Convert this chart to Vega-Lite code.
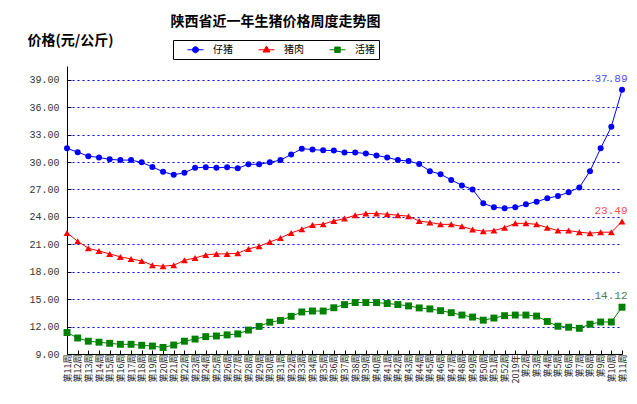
{
  "$schema": "https://vega.github.io/schema/vega-lite/v6.json",
  "autosize": "none",
  "width": 555,
  "height": 288,
  "padding": {"left": 67, "top": 66, "right": 15, "bottom": 50},
  "background": "white",
  "config": {"view": {"stroke": null}, "font": "Noto Sans CJK SC"},
  "title": {"text": "陕西省近一年生猪价格周度走势图", "fontSize": 14, "fontWeight": "bold", "font": "Noto Sans CJK SC", "color": "black", "anchor": "middle", "dx": -69},
  "data": {"values": [
    {"周": "第11周", "仔猪": 31.50, "猪肉": 22.24, "活猪": 11.35},
    {"周": "第12周", "仔猪": 31.07, "猪肉": 21.33, "活猪": 10.75},
    {"周": "第13周", "仔猪": 30.64, "猪肉": 20.56, "活猪": 10.40},
    {"周": "第14周", "仔猪": 30.50, "猪肉": 20.27, "活猪": 10.29},
    {"周": "第15周", "仔猪": 30.29, "猪肉": 19.95, "活猪": 10.17},
    {"周": "第16周", "仔猪": 30.21, "猪肉": 19.62, "活猪": 10.06},
    {"周": "第17周", "仔猪": 30.21, "猪肉": 19.40, "活猪": 10.06},
    {"周": "第18周", "仔猪": 29.96, "猪肉": 19.18, "活猪": 9.95},
    {"周": "第19周", "仔猪": 29.46, "猪肉": 18.71, "活猪": 9.87},
    {"周": "第20周", "仔猪": 28.93, "猪肉": 18.60, "活猪": 9.72},
    {"周": "第21周", "仔猪": 28.61, "猪肉": 18.71, "活猪": 9.98},
    {"周": "第22周", "仔猪": 28.82, "猪肉": 19.25, "活猪": 10.40},
    {"周": "第23周", "仔猪": 29.36, "猪肉": 19.51, "活猪": 10.63},
    {"周": "第24周", "仔猪": 29.43, "猪肉": 19.84, "活猪": 10.90},
    {"周": "第25周", "仔猪": 29.36, "猪肉": 19.95, "活猪": 10.97},
    {"周": "第26周", "仔猪": 29.43, "猪肉": 19.95, "活猪": 11.09},
    {"周": "第27周", "仔猪": 29.32, "猪肉": 20.02, "活猪": 11.20},
    {"周": "第28周", "仔猪": 29.75, "猪肉": 20.49, "活猪": 11.62},
    {"周": "第29周", "仔猪": 29.75, "猪肉": 20.78, "活猪": 12.02},
    {"周": "第30周", "仔猪": 29.96, "猪肉": 21.25, "活猪": 12.48},
    {"周": "第31周", "仔猪": 30.21, "猪肉": 21.69, "活猪": 12.67},
    {"周": "第32周", "仔猪": 30.82, "猪肉": 22.24, "活猪": 13.12},
    {"周": "第33周", "仔猪": 31.46, "猪肉": 22.64, "活猪": 13.60},
    {"周": "第34周", "仔猪": 31.36, "猪肉": 23.10, "活猪": 13.70},
    {"周": "第35周", "仔猪": 31.28, "猪肉": 23.20, "活猪": 13.70},
    {"周": "第36周", "仔猪": 31.25, "猪肉": 23.56, "活猪": 14.06},
    {"周": "第37周", "仔猪": 31.04, "猪肉": 23.81, "活猪": 14.40},
    {"周": "第38周", "仔猪": 31.04, "猪肉": 24.18, "活猪": 14.63},
    {"周": "第39周", "仔猪": 30.93, "猪肉": 24.36, "活猪": 14.63},
    {"周": "第40周", "仔猪": 30.71, "猪肉": 24.36, "活猪": 14.63},
    {"周": "第41周", "仔猪": 30.50, "猪肉": 24.29, "活猪": 14.52},
    {"周": "第42周", "仔猪": 30.21, "猪肉": 24.18, "活猪": 14.41},
    {"周": "第43周", "仔猪": 30.11, "猪肉": 24.07, "活猪": 14.26},
    {"周": "第44周", "仔猪": 29.78, "猪肉": 23.54, "活猪": 14.04},
    {"周": "第45周", "仔猪": 29.00, "猪肉": 23.39, "活猪": 13.93},
    {"周": "第46周", "仔猪": 28.67, "猪肉": 23.18, "活猪": 13.74},
    {"周": "第47周", "仔猪": 28.04, "猪肉": 23.18, "活猪": 13.52},
    {"周": "第48周", "仔猪": 27.44, "猪肉": 22.96, "活猪": 13.26},
    {"周": "第49周", "仔猪": 27.00, "猪肉": 22.61, "活猪": 13.04},
    {"周": "第50周", "仔猪": 25.48, "猪肉": 22.43, "活猪": 12.70},
    {"周": "第51周", "仔猪": 25.05, "猪肉": 22.50, "活猪": 12.93},
    {"周": "第52周", "仔猪": 24.94, "猪肉": 22.82, "活猪": 13.19},
    {"周": "2019年", "仔猪": 25.05, "猪肉": 23.29, "活猪": 13.26},
    {"周": "第2周", "仔猪": 25.37, "猪肉": 23.29, "活猪": 13.26},
    {"周": "第3周", "仔猪": 25.66, "猪肉": 23.18, "活猪": 13.15},
    {"周": "第4周", "仔猪": 26.03, "猪肉": 22.82, "活猪": 12.56},
    {"周": "第5周", "仔猪": 26.28, "猪肉": 22.50, "活猪": 12.04},
    {"周": "第6周", "仔猪": 26.68, "猪肉": 22.50, "活猪": 11.93},
    {"周": "第7周", "仔猪": 27.22, "猪肉": 22.32, "活猪": 11.81},
    {"周": "第8周", "仔猪": 29.00, "猪肉": 22.21, "活猪": 12.26},
    {"周": "第9周", "仔猪": 31.50, "猪肉": 22.32, "活猪": 12.50},
    {"周": "第10周", "仔猪": 33.86, "猪肉": 22.32, "活猪": 12.50},
    {"周": "第11周 ", "仔猪": 37.89, "猪肉": 23.49, "活猪": 14.12}
  ]},
  "transform": [{"fold": ["仔猪", "猪肉", "活猪"], "as": ["品种", "价格"]}],
  "encoding": {
    "x": {"field": "周", "type": "ordinal", "sort": null,
      "scale": {"type": "point", "padding": 0},
      "axis": {"title": null, "labelAngle": -90, "labelFontSize": 9, "labelFont": "Noto Sans CJK SC", "labelColor": "#222", "labelOverlap": false, "labelBound": false, "labelPadding": 4, "tickSize": -4, "tickColor": "black", "domainColor": "black", "grid": false}},
    "y": {"field": "价格", "type": "quantitative",
      "scale": {"domain": [9, 40.5], "nice": false, "zero": false},
      "axis": {"values": [9, 12, 15, 18, 21, 24, 27, 30, 33, 36, 39], "format": ".2f", "labelFont": "Liberation Mono", "labelFontSize": 10, "labelColor": "#333", "labelPadding": 12, "tickSize": -4, "tickColor": "black", "domainColor": "black",
        "grid": true, "gridColor": "#0000FF", "gridDash": [2, 3], "gridWidth": 1,
        "title": "价格(元/公斤)", "titleAngle": 0, "titleAlign": "left", "titleBaseline": "middle", "titleX": -40, "titleY": -26, "titleFontSize": 14, "titleFontWeight": "bold", "titleFont": "Noto Sans CJK SC", "titleColor": "black"}}
  },
  "layer": [
    {"transform": [{"filter": "datum['品种'] === '仔猪'"}],
     "mark": {"type": "line", "strokeWidth": 1, "color": "#0000FF"}, "encoding": {}},
    {"transform": [{"filter": "datum['品种'] === '猪肉'"}],
     "mark": {"type": "line", "strokeWidth": 1, "color": "#FF0000"}, "encoding": {}},
    {"transform": [{"filter": "datum['品种'] === '活猪'"}],
     "mark": {"type": "line", "strokeWidth": 1, "color": "#008000"}, "encoding": {}},
    {"transform": [{"filter": "datum['品种'] === '仔猪'"}],
     "mark": {"type": "point", "shape": "circle", "filled": true, "opacity": 1, "size": 36, "color": "#0000FF"}},
    {"transform": [{"filter": "datum['品种'] === '猪肉'"}],
     "mark": {"type": "point", "shape": "triangle-up", "filled": true, "opacity": 1, "size": 48, "color": "#FF0000"}},
    {"transform": [{"filter": "datum['品种'] === '活猪'"}],
     "mark": {"type": "point", "shape": "square", "filled": true, "opacity": 1, "size": 48, "color": "#008000"}},
    {"mark": {"type": "point", "filled": true, "opacity": 0},
     "encoding": {
       "color": {"field": "品种", "type": "nominal",
         "scale": {"domain": ["仔猪", "猪肉", "活猪"], "range": ["#0000FF", "#FF0000", "#008000"]},
         "legend": {"title": null,
           "orient": "none", "legendX": 106, "legendY": -26, "direction": "horizontal",
           "strokeColor": "black", "padding": 4, "fillColor": "white",
           "symbolSize": 100, "symbolStrokeWidth": 1, "labelOffset": 25, "columnPadding": 15,
           "labelFont": "Noto Sans CJK SC", "labelFontSize": 10, "labelColor": "black",
           "labelExpr": "datum.label + '  '",
           "encode": {"symbols": {"update": {"stroke": {"scale": "color", "field": "value"}, "strokeWidth": {"value": 1}, "opacity": {"value": 1}}}}}},
       "shape": {"field": "品种", "type": "nominal",
         "scale": {"domain": ["仔猪", "猪肉", "活猪"], "range": [
           "M1,0H4.2M2,0A0.6,0.6 0 1,0 3.2,0A0.6,0.6 0 1,0 2,0Z",
           "M1,0H4.2M2.6,-0.75L3.3,0.45L1.9,0.45Z",
           "M1,0H4.2M2.05,-0.55H3.15V0.55H2.05Z"]}}
     }},
    {"transform": [{"filter": "datum['周'] === '第11周 '"}],
     "mark": {"type": "text", "font": "Liberation Mono", "fontSize": 11, "dx": -11, "dy": -11, "baseline": "middle", "align": "center", "stroke": "white", "strokeWidth": 4, "fill": "white"},
     "encoding": {"text": {"field": "价格", "type": "quantitative", "format": ".2f"}}},
    {"transform": [{"filter": "datum['周'] === '第11周 '"}],
     "mark": {"type": "text", "font": "Liberation Mono", "fontSize": 11, "dx": -11, "dy": -11, "baseline": "middle", "align": "center"},
     "encoding": {
       "text": {"field": "价格", "type": "quantitative", "format": ".2f"},
       "fill": {"field": "品种", "type": "nominal", "legend": null, "scale": {"domain": ["仔猪", "猪肉", "活猪"], "range": ["#4b4bff", "#ff4b4b", "#4a7a4a"]}}
     }}
  ]
}
